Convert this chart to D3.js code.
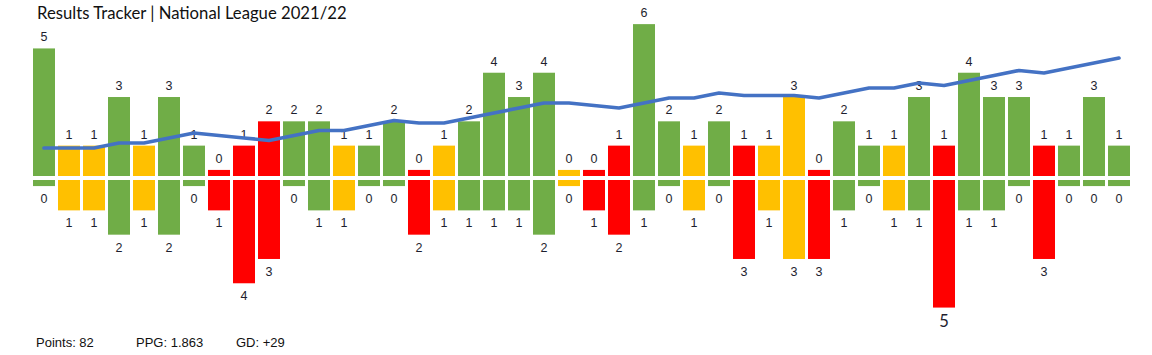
<!DOCTYPE html>
<html>
<head>
<meta charset="utf-8">
<script src="https://cdn.jsdelivr.net/npm/d3@7"></script>
<style>
  html, body { margin: 0; padding: 0; background: #fff; }
  svg { display: block; }
</style>
</head>
<body>
<svg id="chart" width="1152" height="355"></svg>
<script>
// ---- data ----
const matches = d3.range(1, 45);
const goalsFor = [5,1,1,3,1,3,1,0,1,2,2,2,1,1,2,0,1,2,4,3,4,0,0,1,6,2,1,2,1,1,3,0,2,1,1,3,1,4,3,3,1,1,3,1];
const goalsAgainst = [0,1,1,2,1,2,0,1,4,3,0,1,1,0,0,2,1,1,1,1,2,0,1,2,1,0,1,0,3,1,3,3,1,0,1,1,5,1,1,0,3,0,0,0];
const results = ["W","D","D","W","D","W","W","L","L","L","W","W","D","W","W","L","D","W","W","W","W","D","L","L","W","W","D","W","L","D","D","L","W","W","D","W","L","W","W","W","L","W","W","W"];
// trend line (points minus games played)
const trend = [2,2,2,4,4,6,8,7,6,5,7,9,9,11,13,12,12,14,16,18,20,20,19,18,20,22,22,24,23,23,23,22,24,26,26,28,27,29,31,33,32,34,36,38];
const titleText = "Results Tracker | National League 2021/22";
const footer = [["Points: 82", 36], ["PPG: 1.863", 136], ["GD: +29", 236]];

const colors = { W: "#70AD47", D: "#FFC000", L: "#FF0000" };

const svg = d3.select("#chart");

const x = d3.scaleBand().domain(matches).range([31.5, 1131.5]).paddingInner(0.12).paddingOuter(0.06);
const yTop = d3.scaleLinear().domain([0, 6.25]).range([176, 176 - 6.25 * 24.3]);
const yBot = d3.scaleLinear().domain([0, 5.25]).range([180, 180 + 5.25 * 24.3]);
const yTrend = d3.scaleLinear().domain([0, 38]).range([153, 58]);
const stub = 0.25;

const data = matches.map((m, i) => ({ m, gf: goalsFor[i], ga: goalsAgainst[i], r: results[i], t: trend[i] }));

// top bars (goals for)
svg.append("g").selectAll("rect").data(data).join("rect")
  .attr("x", d => x(d.m))
  .attr("width", x.bandwidth())
  .attr("y", d => yTop(d.gf + stub))
  .attr("height", d => yTop(0) - yTop(d.gf + stub))
  .attr("fill", d => colors[d.r]);

// bottom bars (goals against)
svg.append("g").selectAll("rect").data(data).join("rect")
  .attr("x", d => x(d.m))
  .attr("width", x.bandwidth())
  .attr("y", yBot(0))
  .attr("height", d => yBot(d.ga + stub) - yBot(0))
  .attr("fill", d => colors[d.r]);

// labels
const lab = svg.append("g").attr("font-family", "'Liberation Sans', Arial, sans-serif")
  .attr("font-size", 12.5).attr("fill", "#1e1e2e").attr("text-anchor", "middle");
lab.selectAll("text.top").data(data).join("text").attr("class", "top")
  .attr("x", d => x(d.m) + x.bandwidth() / 2)
  .attr("y", d => yTop(d.gf + stub) - 7)
  .text(d => d.gf);
lab.selectAll("text.bot").data(data).join("text").attr("class", "bot")
  .attr("x", d => x(d.m) + x.bandwidth() / 2)
  .attr("y", d => yBot(d.ga + stub) + 17 + (d.ga === 5 ? 2 : 0))
  .attr("font-size", d => d.ga === 5 ? 16.5 : null)
  .attr("font-family", d => d.ga === 5 ? "Lato, 'Open Sans', sans-serif" : null)
  .text(d => d.ga);

// trend line
svg.append("path").datum(data)
  .attr("fill", "none").attr("stroke", "#4472C4").attr("stroke-width", 3.7)
  .attr("stroke-linejoin", "round").attr("stroke-linecap", "round")
  .attr("d", d3.line().x(d => x(d.m) + x.bandwidth() / 2).y(d => yTrend(d.t)));

// title
const title = svg.append("text").attr("x", 37).attr("y", 19)
  .attr("font-family", "Lato, 'Open Sans', sans-serif").attr("font-size", 17)
  .attr("fill", "#111").text(titleText);
const w = title.node().getComputedTextLength();
title.attr("font-size", 17 * 310 / w);

// footer
svg.append("g").selectAll("text").data(footer).join("text")
  .attr("x", d => d[1]).attr("y", 347)
  .attr("font-family", "'Liberation Sans', Arial, sans-serif").attr("font-size", 13)
  .attr("fill", "#111").text(d => d[0]);
</script>
</body>
</html>
